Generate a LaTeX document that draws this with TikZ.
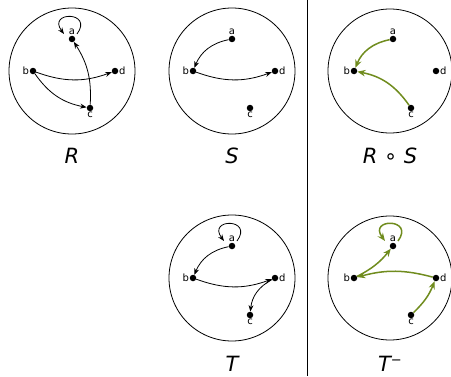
\documentclass[tikz,border=0pt]{standalone}
\usepackage{fontspec}
\setmainfont{DejaVu Sans}
\usetikzlibrary{arrows.meta}
\definecolor{olivegreen}{RGB}{112,140,30}
\newcommand\worldpts[1]{%
  \node[dot,label={[lbl]above:a}] (#1a) at (0,32) {};
  \node[dot,label={[lbl]left:b}] (#1b) at (-39,0) {};
  \node[dot,label={[lbl]below:c}] (#1c) at (18,-37) {};
  \node[dot,label={[lbl]right:d}] (#1d) at (43,0) {};}
\begin{document}
\begin{tikzpicture}[x=1pt,y=1pt,
  dot/.style={circle,fill,inner sep=0pt,minimum size=6.5pt},
  lbl/.style={font=\fontsize{10}{10}\selectfont,inner sep=0.5pt},
  arr/.style={-{Stealth[length=6.5pt,width=5pt]},line width=0.8pt},
  garr/.style={-{Stealth[length=8pt,width=6.5pt]},line width=1.5pt,draw=olivegreen},
  world/.style={draw,circle,line width=0.8pt,inner sep=0pt},
  ttl/.style={font=\fontsize{21}{22}\selectfont\itshape,anchor=base,inner sep=0pt}]
\useasboundingbox (0,0) rectangle (451,376);
% R
\begin{scope}[shift={(72,305)}]
  \node[world,minimum size=126pt] (Rw) at (0,0) {};
  \worldpts{R}
  \draw[arr] ([shift={(5,5)}]Ra.center) .. controls +(17,23) and +(-17,23) .. ([shift={(-8,5)}]Ra.center);
  \draw[arr] (Rb) to[bend right=20] (Rd);
  \draw[arr] (Rb) to[bend right=22] (Rc);
  \draw[arr] (Rc) to[bend right=18] (Ra);
\end{scope}
\node[ttl] (Rt) at (72,213) {R};
% S
\begin{scope}[shift={(232,305)}]
  \node[world,minimum size=126pt] (Sw) at (0,0) {};
  \worldpts{S}
  \draw[arr] (Sa) to[bend right=28] (Sb);
  \draw[arr] (Sb) to[bend right=20] (Sd);
\end{scope}
\node[ttl] (St) at (232,213) {S};
% R o S
\begin{scope}[shift={(393,305)}]
  \node[world,minimum size=124pt] (RSw) at (-3,0) {};
  \worldpts{RS}
  \draw[garr] (RSa) to[bend right=28] (RSb);
  \draw[garr] (RSc) to[bend right=22] (RSb);
\end{scope}
\node[ttl] (RSt) at (390,213) {R {\upshape∘} S};
% T
\begin{scope}[shift={(232,98)}]
  \node[world,minimum size=126pt] (Tw) at (0,0) {};
  \worldpts{T}
  \draw[arr] ([shift={(5,5)}]Ta.center) .. controls +(17,23) and +(-17,23) .. ([shift={(-8,5)}]Ta.center);
  \draw[arr] (Ta) to[bend right=28] (Tb);
  \draw[arr] (Tb) to[bend right=20] (Td);
  \draw[arr] (Td) to[bend right=28] (Tc);
\end{scope}
\node[ttl] (Tt) at (232,5) {T};
% T^-
\begin{scope}[shift={(393,98)}]
  \node[world,minimum size=124pt] (TIw) at (-3,0) {};
  \worldpts{TI}
  \draw[garr] ([shift={(5,5)}]TIa.center) .. controls +(17,23) and +(-17,23) .. ([shift={(-8,5)}]TIa.center);
  \draw[garr] (TIb) to[bend right=12] (TIa);
  \draw[garr] (TId) to[bend right=15] (TIb);
  \draw[garr] (TIc) to[bend right=12] (TId);
\end{scope}
\node[ttl] (TIt) at (390,5) {T\raisebox{0.55ex}{\upshape\fontsize{13}{13}\selectfont −}};
% separator
\coordinate (sepTop) at (307,376);
\coordinate (sepBot) at (307,0);
\draw[line width=0.8pt] (sepTop) -- (sepBot);
\end{tikzpicture}
\end{document}
